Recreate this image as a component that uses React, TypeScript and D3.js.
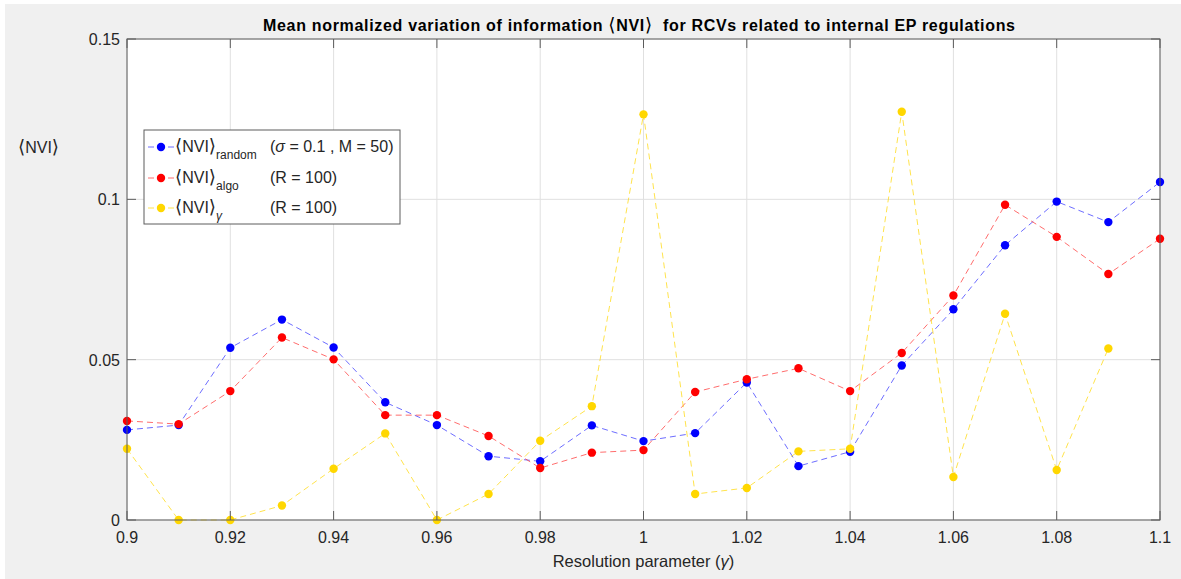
import React from "react";
import * as d3 from "d3";

// Resolution parameter values (x axis)
const gammaValues = [0.9, 0.91, 0.92, 0.93, 0.94, 0.95, 0.96, 0.97, 0.98, 0.99, 1.0, 1.01, 1.02, 1.03, 1.04, 1.05, 1.06, 1.07, 1.08, 1.09, 1.1];

// Mean NVI for random partitions (sigma = 0.1, M = 50)
const nviRandom = [0.0281, 0.0296, 0.0537, 0.0625, 0.0538, 0.0367, 0.0296, 0.0199, 0.0183, 0.0295, 0.0246, 0.0271, 0.0429, 0.0168, 0.0213, 0.0482, 0.0657, 0.0857, 0.0993, 0.0929, 0.1054];
// Mean NVI across algorithm runs (R = 100)
const nviAlgo = [0.0309, 0.0299, 0.0402, 0.0569, 0.0501, 0.0327, 0.0327, 0.0262, 0.0162, 0.021, 0.0218, 0.0399, 0.0439, 0.0473, 0.0402, 0.0521, 0.07, 0.0983, 0.0883, 0.0767, 0.0877];
// Mean NVI between neighbouring gamma values (R = 100)
const nviGamma = [0.0222, 0, 0, 0.0045, 0.016, 0.027, 0, 0.0081, 0.0247, 0.0355, 0.1265, 0.0081, 0.01, 0.0214, 0.0222, 0.1273, 0.0134, 0.0643, 0.0156, 0.0535];

const xTicks = [0.9, 0.92, 0.94, 0.96, 0.98, 1.0, 1.02, 1.04, 1.06, 1.08, 1.1];
const xTickLabels = ["0.9", "0.92", "0.94", "0.96", "0.98", "1", "1.02", "1.04", "1.06", "1.08", "1.1"];
const yTicks = [0, 0.05, 0.1, 0.15];
const yTickLabels = ["0", "0.05", "0.1", "0.15"];

const W = 1181;
const H = 579;
const left = 127;
const right = 1160;
const top = 39;
const bottom = 520;

const FONT = "'Liberation Sans', Arial, Helvetica, sans-serif";
const BRACKET_FONT = "'DejaVu Sans', sans-serif";

const series = [
  { name: "random", values: nviRandom, marker: "#0000ff", line: "rgba(60,60,255,0.75)" },
  { name: "algo", values: nviAlgo, marker: "#ff0000", line: "rgba(255,60,60,0.75)" },
  { name: "gamma", values: nviGamma, marker: "#ffd700", line: "rgba(255,215,0,0.7)" },
];

// ⟨NVI⟩ with bracket glyphs from a font that carries them
function NVI() {
  return (
    <>
      <tspan fontFamily={BRACKET_FONT} fontWeight="normal" fontSize="1.15em">⟨</tspan>
      <tspan>NVI</tspan>
      <tspan fontFamily={BRACKET_FONT} fontWeight="normal" fontSize="1.15em">⟩</tspan>
    </>
  );
}

export default function App() {
  const x = d3.scaleLinear().domain([0.9, 1.1]).range([left, right]);
  const y = d3.scaleLinear().domain([0, 0.15]).range([bottom, top]);
  const line = d3
    .line<number>()
    .x((_, i) => x(gammaValues[i]))
    .y((d) => y(d));

  const axisColor = "#5c5c5c";
  const gridColor = "#e0e0e0";
  const textColor = "#262626";
  const tickLen = 9;

  const legendRows = [
    { s: series[0], sub: "random", subItalic: false, param: "random" },
    { s: series[1], sub: "algo", subItalic: false, param: "algo" },
    { s: series[2], sub: "γ", subItalic: true, param: "gamma" },
  ];
  const legendY = [147, 178, 208];

  return (
    <svg width={W} height={H} style={{ position: "absolute", left: 0, top: 0 }} fontFamily={FONT}>
      <rect x={0} y={0} width={W} height={H} fill="#ffffff" />
      <rect x={5} y={4} width={W - 5} height={H - 4} fill="#f0f0f0" />
      <rect x={left} y={top} width={right - left} height={bottom - top} fill="#ffffff" />

      {/* grid */}
      {xTicks.map((t) => (
        <line key={"gx" + t} x1={x(t)} x2={x(t)} y1={top} y2={bottom} stroke={gridColor} strokeWidth={1} />
      ))}
      {yTicks.map((t) => (
        <line key={"gy" + t} x1={left} x2={right} y1={y(t)} y2={y(t)} stroke={gridColor} strokeWidth={1} />
      ))}

      {/* series */}
      {series.map((s) => (
        <g key={s.name}>
          <path d={line(s.values) || ""} fill="none" stroke={s.line} strokeWidth={1} strokeDasharray="6,4" />
          {s.values.map((v, i) => (
            <circle key={i} cx={x(gammaValues[i])} cy={y(v)} r={4.2} fill={s.marker} />
          ))}
        </g>
      ))}

      {/* axes box */}
      <rect x={left} y={top} width={right - left} height={bottom - top} fill="none" stroke={axisColor} strokeWidth={1} />
      {xTicks.map((t) => (
        <g key={"tx" + t}>
          <line x1={x(t)} x2={x(t)} y1={bottom} y2={bottom - tickLen} stroke={axisColor} />
          <line x1={x(t)} x2={x(t)} y1={top} y2={top + tickLen} stroke={axisColor} />
        </g>
      ))}
      {yTicks.map((t) => (
        <g key={"ty" + t}>
          <line x1={left} x2={left + tickLen} y1={y(t)} y2={y(t)} stroke={axisColor} />
          <line x1={right} x2={right - tickLen} y1={y(t)} y2={y(t)} stroke={axisColor} />
        </g>
      ))}

      {/* tick labels */}
      {xTicks.map((t, i) => (
        <text key={"lx" + t} x={x(t)} y={543} textAnchor="middle" fontSize={16} fill={textColor}>
          {xTickLabels[i]}
        </text>
      ))}
      {yTicks.map((t, i) => (
        <text key={"ly" + t} x={120} y={y(t) + 6} textAnchor="end" fontSize={16} fill={textColor}>
          {yTickLabels[i]}
        </text>
      ))}

      {/* axis labels and title */}
      <text x={(left + right) / 2} y={567} textAnchor="middle" fontSize={16.5} fill={textColor}>
        Resolution parameter (<tspan fontStyle="italic">γ</tspan>)
      </text>
      <text x={18} y={153} fontSize={16} fill={textColor}>
        <NVI />
      </text>
      <text x={263} y={31} fontSize={16} fontWeight="bold" fill="#000000" textLength={752} lengthAdjust="spacing" style={{ whiteSpace: "pre" }}>
        Mean normalized variation of information <NVI />{"\u00a0 for RCVs related to internal EP regulations"}
      </text>

      {/* legend */}
      <rect x={144} y={130} width={256} height={94} fill="#ffffff" stroke={axisColor} strokeWidth={1} />
      {legendRows.map((r, i) => (
        <g key={r.param}>
          <line x1={147} x2={174} y1={legendY[i]} y2={legendY[i]} stroke={r.s.line} strokeWidth={1} strokeDasharray="6,4" strokeDashoffset={-1} />
          <circle cx={161} cy={legendY[i]} r={4.2} fill={r.s.marker} />
          <text x={175} y={legendY[i] + 5} fontSize={16} fill={textColor}>
            <NVI />
            <tspan fontSize={12} dy={7} fontStyle={r.subItalic ? "italic" : "normal"}>
              {r.sub}
            </tspan>
          </text>
        </g>
      ))}
      <text x={270} y={legendY[0] + 5} fontSize={16} fill={textColor}>
        (<tspan fontStyle="italic">σ</tspan> = 0.1 , M = 50)
      </text>
      <text x={270} y={legendY[1] + 5} fontSize={16} fill={textColor}>
        (R = 100)
      </text>
      <text x={270} y={legendY[2] + 5} fontSize={16} fill={textColor}>
        (R = 100)
      </text>
    </svg>
  );
}
